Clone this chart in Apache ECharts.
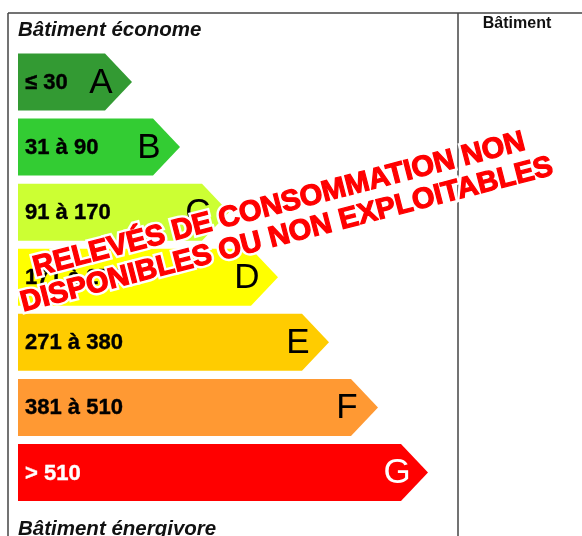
<!DOCTYPE html>
<html><head><meta charset="utf-8">
<script src="https://cdn.jsdelivr.net/npm/echarts@6/dist/echarts.min.js"></script>
<style>html,body{margin:0;padding:0;background:#fff}#c{width:582px;height:536px}</style>
</head><body><div id="c"></div>
<script>
const classes = ['A','B','C','D','E','F','G'];
const ranges = ['≤ 30','31 à 90','91 à 170','171 à 270','271 à 380','381 à 510','> 510'];
const barLengths = [114,162,211,260,311,360,410];
const barColors = ['#339a33','#33cc33','#ccff33','#ffff00','#ffcc00','#ff9933','#ff0000'];
const labelColors = ['#000','#000','#000','#000','#000','#000','#fff'];
const headerTop = 'Bâtiment économe';
const headerBottom = 'Bâtiment énergivore';
const sideHeader = 'Bâtiment';
const stampLines = ['RELEVÉS DE CONSOMMATION NON','DISPONIBLES OU NON EXPLOITABLES'];

const chart = echarts.init(document.getElementById('c'), null, {renderer:'canvas'});
const FONT = '"Liberation Sans", Arial, sans-serif';
const TIP = 27;
const stampText = stampLines.join('\n');
chart.setOption({
  animation:false,
  grid:{left:18, top:49.5, width:500, height:455.5},
  xAxis:{type:'value', min:0, max:500, show:false},
  yAxis:{type:'category', data:classes, inverse:true, show:false},
  series:[{
    type:'custom',
    data: barLengths.map((v,i)=>[v,i]),
    renderItem:(params, api)=>{
      const i = api.value(1);
      const end = api.coord([api.value(0), i]);
      const start = api.coord([0, i]);
      const band = api.size([0,1])[1];
      const h = band*0.876;
      const cy = end[1], x0 = start[0], tip = end[0];
      return {type:'group', children:[
        {type:'polygon', shape:{points:[[x0,cy-h/2],[tip-TIP,cy-h/2],[tip,cy],[tip-TIP,cy+h/2],[x0,cy+h/2]]},
          style:{fill:barColors[i]}},
        {type:'text', style:{text:ranges[i], x:x0+7, y:cy+1, align:'left', verticalAlign:'middle',
          font:'bold 22px '+FONT, fill:labelColors[i], stroke:labelColors[i], lineWidth:0.4}},
        {type:'text', style:{text:classes[i], x:tip-31, y:cy+1, align:'center', verticalAlign:'middle',
          font:'35px '+FONT, fill:labelColors[i]}}
      ]};
    }
  }],
  graphic:[
    {type:'line', shape:{x1:8,y1:13,x2:582,y2:13}, style:{stroke:'#444', lineWidth:1.5}},
    {type:'line', shape:{x1:8,y1:13,x2:8,y2:536}, style:{stroke:'#444', lineWidth:1.5}},
    {type:'line', shape:{x1:458,y1:13,x2:458,y2:536}, style:{stroke:'#444', lineWidth:1.5}},
    {type:'text', x:18, y:30, style:{text:headerTop, font:'italic bold 20.5px '+FONT, fill:'#111', verticalAlign:'middle'}},
    {type:'text', x:18, y:529, style:{text:headerBottom, font:'italic bold 20.5px '+FONT, fill:'#111', verticalAlign:'middle'}},
    {type:'text', x:517, y:24, style:{text:sideHeader, font:'bold 16px '+FONT, fill:'#111', align:'center', verticalAlign:'middle'}},
    {type:'text', x:283, y:220, rotation:0.253, z:100,
      style:{text:stampText, font:'bold 29px '+FONT, lineHeight:31, fill:'#fff',
        stroke:'#fff', lineWidth:6, align:'center', verticalAlign:'middle'}},
    {type:'text', x:283, y:220, rotation:0.253, z:101,
      style:{text:stampText, font:'bold 29px '+FONT, lineHeight:31, fill:'#ff0000',
        stroke:'#ff0000', lineWidth:1.2, align:'center', verticalAlign:'middle'}}
  ]
});
</script></body></html>
